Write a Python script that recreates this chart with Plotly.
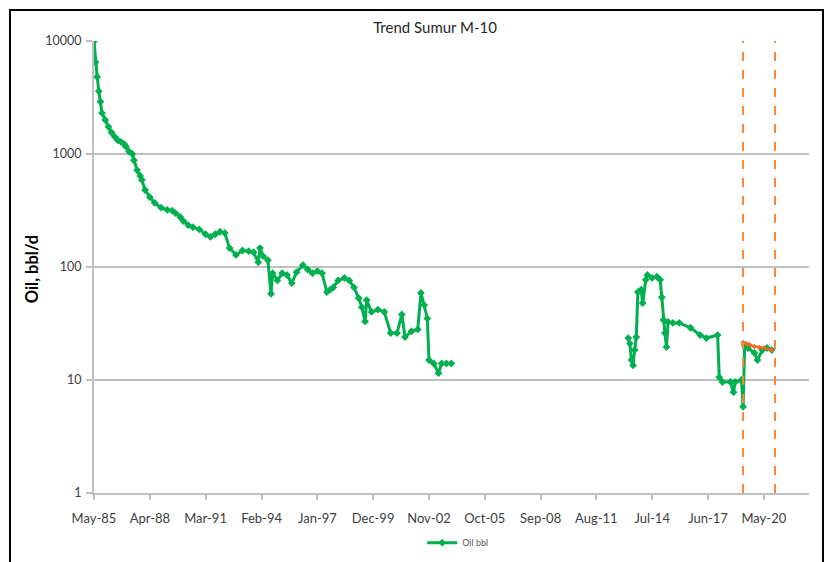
import plotly.graph_objects as go

# ---- data ----
seg1_dates = ["1985-05-01","1985-06-01","1985-07-01","1985-08-01","1985-09-01","1985-10-01","1985-12-01",
              "1986-02-01","1986-04-01","1986-06-01","1986-08-01","1986-10-01","1986-12-01","1987-01-01",
              "1987-03-01","1987-05-01","1987-06-01","1987-08-01","1987-10-01","1987-11-01","1988-01-01",
              "1988-04-01","1988-07-01","1988-11-01","1989-03-01","1989-06-01","1989-08-01","1989-11-01",
              "1990-01-01","1990-04-01","1990-07-01","1990-11-01","1991-03-01","1991-06-01","1991-09-01",
              "1991-12-01","1992-03-01","1992-06-01","1992-10-01","1993-02-01","1993-06-01","1993-09-01",
              "1993-12-01","1994-01-01","1994-03-01","1994-06-01","1994-08-01","1994-09-01","1994-12-01",
              "1995-03-01","1995-06-01","1995-09-01","1995-12-01","1996-04-01","1996-07-01","1996-10-01",
              "1997-01-01","1997-04-01","1997-07-01","1997-09-01","1997-11-01","1998-02-01","1998-06-01",
              "1998-09-01","1998-12-01","1999-03-01","1999-05-01","1999-07-01","1999-08-01","1999-11-01",
              "2000-03-01","2000-07-01","2000-11-01","2001-03-01","2001-06-01","2001-08-01","2001-12-01",
              "2002-04-01","2002-06-01","2002-08-01","2002-10-01","2002-11-01","2003-02-01","2003-05-01",
              "2003-07-01","2003-10-01","2004-01-01"]
seg1_oil = [10000, 6500, 4800, 3600, 2900, 2300, 2000,
            1740, 1550, 1420, 1320, 1280, 1220, 1160,
            1050, 1000, 880, 720, 640, 590, 480,
            415, 370, 335, 320, 315, 300, 277,
            255, 235, 225, 215, 195, 185, 195,
            205, 200, 147, 128, 140, 138, 135,
            110, 147, 125, 115, 58, 88, 76,
            88, 85, 72, 90, 104, 95, 88,
            92, 88, 60, 63, 66, 76, 80,
            76, 66, 53, 44, 33, 51, 40,
            42, 40, 26, 26, 38, 24, 27,
            28, 59, 46, 35, 15, 14, 11.5,
            14, 14, 14]

seg2_dates = ["2013-04-01","2013-05-01","2013-06-01","2013-07-01","2013-08-01","2013-09-01","2013-10-01",
              "2013-12-01","2014-01-01","2014-03-01","2014-04-01","2014-07-01","2014-10-01","2014-12-01",
              "2015-01-01","2015-02-01","2015-03-01","2015-04-01","2015-05-01","2015-08-01","2015-12-01",
              "2016-07-01","2017-01-01","2017-05-01","2017-12-01","2018-01-01","2018-03-01","2018-08-01",
              "2018-10-01","2018-11-01","2019-03-01","2019-04-01","2019-05-01","2019-07-01","2019-11-01",
              "2020-01-01","2020-04-01","2020-07-01","2020-10-01"]
seg2_oil = [23.5, 21, 15, 13.5, 18.4, 24, 60,
            63, 48, 77, 85, 80, 82, 77,
            54, 34, 26, 19.6, 32.6, 32, 32,
            29, 25, 23.5, 25, 10.6, 9.6, 9.6,
            7.8, 9.6, 10, 5.8, 20.4, 19.2, 17.4,
            15, 18.4, 19.2, 18.4]

fc_dates = ["2019-04-01","2019-06-01","2019-08-01","2019-11-01","2020-02-01","2020-05-01","2020-10-01"]
fc_oil = [21.5, 21, 20.6, 19.8, 19.5, 19.2, 18.4]

marker_dates = ["2019-04-01", "2020-12-01"]

tick_dates = ["1985-05-01","1988-04-01","1991-03-01","1994-02-01","1997-01-01","1999-12-01","2002-11-01",
              "2005-10-01","2008-09-01","2011-08-01","2014-07-01","2017-06-01","2020-05-01"]
tick_labels = ["May-85","Apr-88","Mar-91","Feb-94","Jan-97","Dec-99","Nov-02",
               "Oct-05","Sep-08","Aug-11","Jul-14","Jun-17","May-20"]
y_ticks = [1, 10, 100, 1000, 10000]
y_labels = ["1", "10", "100", "1000", "10000"]

# ---- figure ----
GREEN = "#00b050"
ORANGE = "#f4883a"
GRID = "#bfbfbf"

all_dates = seg1_dates + [None] + seg2_dates
all_oil = seg1_oil + [None] + seg2_oil

fig = go.Figure()
fig.add_trace(go.Scatter(
    x=all_dates, y=all_oil, name="Oil bbl", mode="lines+markers",
    line=dict(color=GREEN, width=3), marker=dict(color=GREEN, size=6, symbol="diamond"),
    connectgaps=False))
fig.add_trace(go.Scatter(
    x=fc_dates, y=fc_oil, name="Forecast", mode="lines+markers", showlegend=False,
    line=dict(color="#ef6a1f", width=2.5), marker=dict(color="#ef6a1f", size=4, symbol="diamond")))

for d in marker_dates:
    fig.add_shape(type="line", xref="x", yref="paper", x0=d, x1=d, y0=0, y1=1,
                  line=dict(color=ORANGE, width=2, dash="dash"))

# outer chart frame (plot area is 715 x 452 px)
fig.add_shape(type="rect", xref="paper", yref="paper", x0=-0.1175, x1=1.0196, y0=-0.2, y1=1.0686,
              line=dict(color="black", width=2), layer="below")

# the page body adds an 8px offset; the figure is sized so the plot area lands at x 94-809, y 41-493
fig.update_layout(
    width=824, height=554,
    margin=dict(l=86, r=23, t=33, b=69, autoexpand=False),
    paper_bgcolor="white", plot_bgcolor="white",
    font=dict(family="Lato, 'Open Sans', sans-serif", color="#404040"),
    title=dict(text="Trend Sumur M-10", x=0.477, xref="paper", xanchor="center",
               y=1 - 20 / 554, yref="container", yanchor="middle",
               font=dict(size=15, color="#262626")),
    showlegend=True,
    legend=dict(orientation="h", x=0.459, xanchor="left", y=-0.11, yanchor="middle",
                font=dict(size=9, color="#595959"), bgcolor="rgba(0,0,0,0)"),
    xaxis=dict(type="date", range=["1985-05-01", "2022-09-10"],
               tickmode="array", tickvals=tick_dates, ticktext=tick_labels,
               showgrid=False, showline=True, linecolor=GRID, linewidth=2,
               ticks="outside", ticklen=5, tickcolor=GRID, tickwidth=1.5,
               ticklabelstandoff=7,
               tickfont=dict(size=13, color="#404040"), zeroline=False, automargin=False),
    yaxis=dict(type="log", range=[0, 4], tickmode="array", tickvals=y_ticks, ticktext=y_labels,
               showgrid=True, gridcolor=GRID, gridwidth=2,
               showline=True, linecolor=GRID, linewidth=2,
               ticks="outside", ticklen=6, tickcolor=GRID, tickwidth=1.5,
               ticklabelstandoff=2,
               tickfont=dict(size=12.5, color="#404040"), zeroline=False, automargin=False),
)

fig.add_annotation(text="<b>Oil, bbl/d</b>", xref="paper", yref="paper",
                   x=-0.0867, y=0.495, textangle=-90, showarrow=False,
                   font=dict(size=16.5, color="#000000"), xanchor="center", yanchor="middle")

fig.write_html("out.html")
